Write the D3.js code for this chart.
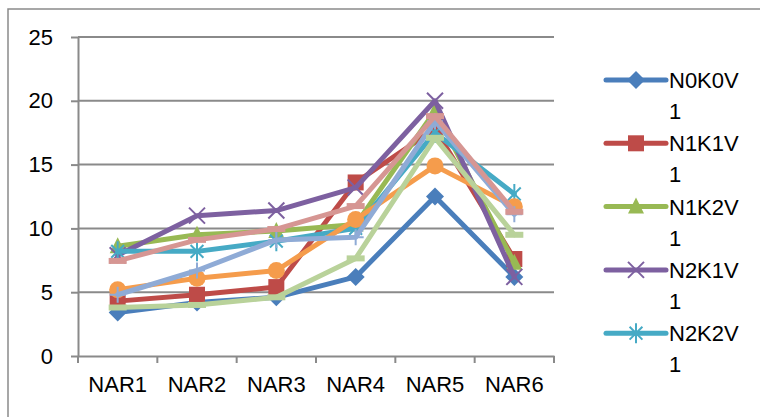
<!DOCTYPE html>
<html>
<head>
<meta charset="utf-8">
<script src="https://cdn.jsdelivr.net/npm/d3@7"></script>
<style>
  body { margin: 0; background: #fff; }
  svg { display: block; font-family: "Liberation Sans", Arial, sans-serif; }
</style>
</head>
<body>
<svg width="760" height="417"></svg>
<script>
// categories and values
const categories = ["NAR1", "NAR2", "NAR3", "NAR4", "NAR5", "NAR6"];
const seriesNames = ["N0K0V1", "N1K1V1", "N1K2V1", "N2K1V1", "N2K2V1", "N0K0V2", "N1K1V2", "N1K2V2", "N2K1V2"];
const n0k0v1 = [3.4, 4.2, 4.6, 6.2, 12.5, 6.2];
const n1k1v1 = [4.3, 4.8, 5.4, 13.6, 17.8, 7.6];
const n1k2v1 = [8.6, 9.5, 9.8, 10.3, 19.2, 7.3];
const n2k1v1 = [7.9, 11.0, 11.4, 13.2, 20.0, 6.2];
const n2k2v1 = [8.2, 8.2, 9.0, 10.0, 17.5, 12.7];
const n0k0v2 = [5.2, 6.1, 6.7, 10.7, 14.9, 11.7];
const n1k1v2 = [4.8, 6.7, 9.1, 9.3, 18.4, 11.1];
const n1k2v2 = [7.45, 9.1, 9.95, 11.75, 18.8, 11.3];
const n2k1v2 = [3.8, 4.0, 4.6, 7.65, 17.1, 9.5];
const yTicks = [0, 5, 10, 15, 20, 25];
const legendCount = 5; // only first five fit in the legend box

const allValues = [n0k0v1, n1k1v1, n1k2v1, n2k1v1, n2k2v1, n0k0v2, n1k1v2, n1k2v2, n2k1v2];
const colors = ["#4a7ebb", "#be4b48", "#98b954", "#7d60a0", "#46aac5", "#f59c4c", "#8fabd6", "#d69693", "#b9d29a"];
const markers = ["diamond", "square", "triangle", "x", "star", "circle", "plus", "bar", "bar"];

const series = seriesNames.map((name, i) => ({
  name: name,
  color: colors[i],
  marker: markers[i],
  values: categories.map((c, j) => ({ cat: c, v: allValues[i][j] }))
}));

const svg = d3.select("svg");
const gridColor = "#8a8a8a";

// outer chart border (runs off the right and bottom)
svg.append("path")
  .attr("d", "M8,417V9H760")
  .attr("fill", "none")
  .attr("stroke", gridColor)
  .attr("stroke-width", 1.5);

const x = d3.scaleBand().domain(categories).range([78, 554]);
const y = d3.scaleLinear().domain([0, 25]).range([356, 37]);
const cx = c => x(c) + x.bandwidth() / 2;

// gridlines
svg.append("g").selectAll("line")
  .data(yTicks.slice(1))
  .enter().append("line")
  .attr("x1", 78).attr("x2", 554)
  .attr("y1", d => y(d)).attr("y2", d => y(d))
  .attr("stroke", gridColor).attr("stroke-width", 2);

// y axis
const yAxis = svg.append("g")
  .attr("transform", "translate(78,0)")
  .call(d3.axisLeft(y).tickValues(yTicks).tickSize(7).tickSizeOuter(0).tickPadding(18));
yAxis.select(".domain").attr("stroke", gridColor).attr("stroke-width", 2);
yAxis.selectAll(".tick line").attr("stroke", gridColor).attr("stroke-width", 2);
yAxis.selectAll("text").attr("font-size", 22).attr("fill", "#000").attr("font-family", null);

// x axis: labels at band centres, ticks at band edges
const xAxis = svg.append("g")
  .attr("transform", "translate(0,356)")
  .call(d3.axisBottom(x).tickSize(0).tickSizeOuter(0).tickPadding(20));
xAxis.select(".domain").attr("stroke", gridColor).attr("stroke-width", 2);
xAxis.selectAll("text").attr("font-size", 22).attr("fill", "#000").attr("font-family", null);
const edges = categories.map(c => x(c)).concat([x(categories[categories.length - 1]) + x.bandwidth()]);
xAxis.selectAll(".edge")
  .data(edges)
  .enter().append("line")
  .attr("class", "edge")
  .attr("x1", d => d).attr("x2", d => d)
  .attr("y1", 0).attr("y2", 7)
  .attr("stroke", gridColor).attr("stroke-width", 2);

// marker drawing
function drawMarker(g, type, color) {
  const s = 8;
  if (type === "diamond") {
    g.append("path").attr("d", `M0,${-s - 1}L${s + 1},0L0,${s + 1}L${-s - 1},0Z`).attr("fill", color);
  } else if (type === "square") {
    g.append("rect").attr("x", -s).attr("y", -s).attr("width", 2 * s).attr("height", 2 * s).attr("fill", color);
  } else if (type === "triangle") {
    g.append("path").attr("d", `M0,${-s - 1}L${s},${s - 1}L${-s},${s - 1}Z`).attr("fill", color);
  } else if (type === "circle") {
    g.append("circle").attr("r", s + 0.5).attr("fill", color);
  } else if (type === "x") {
    g.append("path").attr("d", `M${-s},${-s}L${s},${s}M${-s},${s}L${s},${-s}`)
      .attr("stroke", color).attr("stroke-width", 2).attr("fill", "none");
  } else if (type === "star") {
    const d = s * 0.8;
    g.append("path").attr("d", `M0,${-s - 2}V${s + 2}M${-d},${-d}L${d},${d}M${-d},${d}L${d},${-d}`)
      .attr("stroke", color).attr("stroke-width", 2).attr("fill", "none");
  } else if (type === "plus") {
    g.append("path").attr("d", `M${-s},0H${s}M0,${-s}V${s}`)
      .attr("stroke", color).attr("stroke-width", 2).attr("fill", "none");
  } else if (type === "bar") {
    g.append("rect").attr("x", -s - 1).attr("y", -3).attr("width", 2 * s + 2).attr("height", 6).attr("fill", color);
  }
}

const line = d3.line().x(d => cx(d.cat)).y(d => y(d.v));

// each series: line then its markers, in order
series.forEach(s => {
  const g = svg.append("g");
  g.append("path")
    .datum(s.values)
    .attr("d", line)
    .attr("fill", "none")
    .attr("stroke", s.color)
    .attr("stroke-width", 5)
    .attr("stroke-linejoin", "round")
    .attr("stroke-linecap", "round");
  g.selectAll(".m")
    .data(s.values)
    .enter().append("g")
    .attr("transform", d => `translate(${cx(d.cat)},${y(d.v)})`)
    .each(function() { drawMarker(d3.select(this), s.marker, s.color); });
});

// legend
const legend = svg.append("g");
const legendRows = d3.scaleLinear().domain([0, 1]).range([80, 143.3]);
series.slice(0, legendCount).forEach((s, i) => {
  const ly = legendRows(i);
  const g = legend.append("g").attr("transform", `translate(0,${ly})`);
  g.append("line")
    .attr("x1", 606).attr("x2", 666).attr("y1", 0).attr("y2", 0)
    .attr("stroke", s.color).attr("stroke-width", 5).attr("stroke-linecap", "round");
  drawMarker(g.append("g").attr("transform", "translate(636,0)"), s.marker, s.color);
  const t = g.append("text").attr("font-size", 22).attr("fill", "#000");
  t.append("tspan").attr("x", 669).attr("y", 8).text(s.name.slice(0, 5));
  t.append("tspan").attr("x", 669).attr("y", 39).text(s.name.slice(5));
});
</script>
</body>
</html>
